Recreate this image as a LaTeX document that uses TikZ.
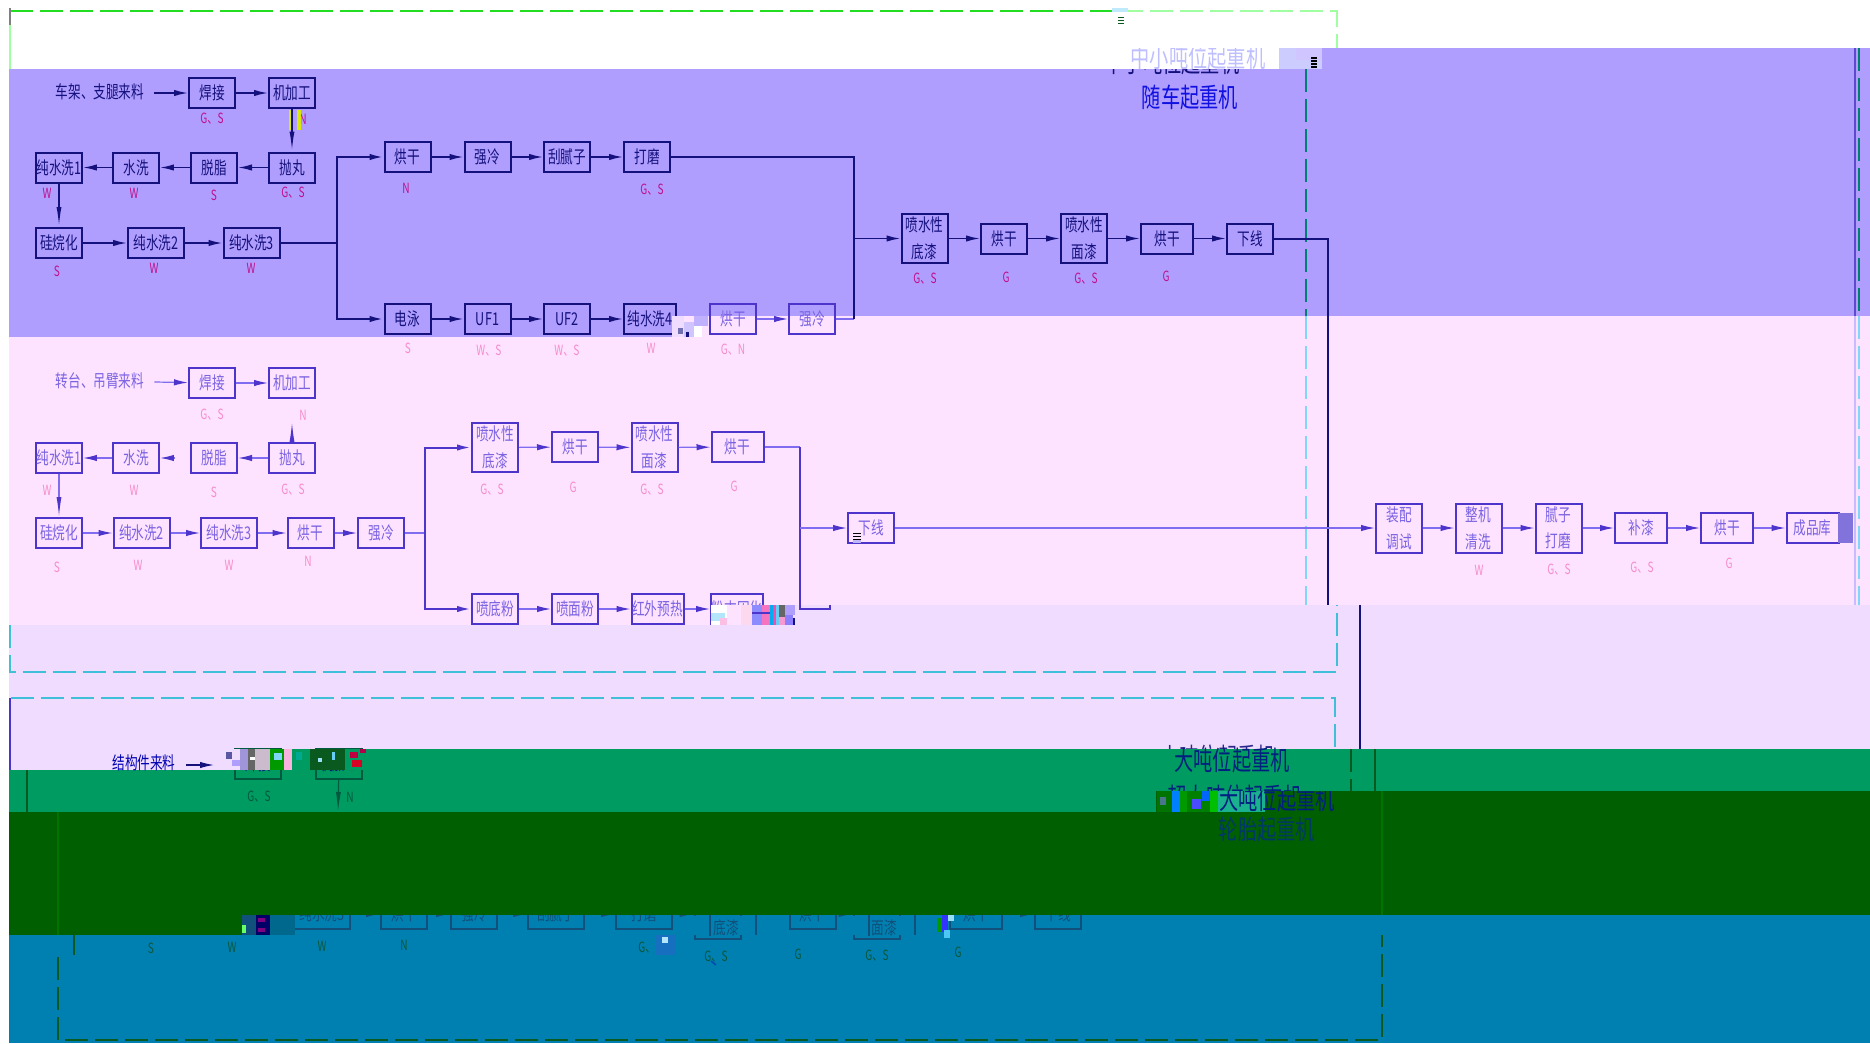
\documentclass[tikz,border=0pt]{standalone}
\usepackage{fontspec}
\usetikzlibrary{arrows.meta, positioning}
\newfontfamily\cjk[FakeStretch=0.72]{Noto Sans CJK SC}
\definecolor{purpleband}{RGB}{176,158,255}
\definecolor{pinkband}{RGB}{253,227,255}
\definecolor{lilacband}{RGB}{239,220,255}
\definecolor{greenband}{RGB}{0,155,96}
\definecolor{darkband}{RGB}{0,95,0}
\definecolor{blueband}{RGB}{0,128,176}
\definecolor{navyink}{RGB}{20,16,124}
\definecolor{pinkink}{RGB}{77,53,204}
\definecolor{pinktext}{RGB}{122,98,226}
\definecolor{pinkline}{RGB}{127,108,240}
\definecolor{seaink}{RGB}{16,80,122}
\definecolor{leafink}{RGB}{0,90,64}
\definecolor{framegreen}{RGB}{34,221,34}
\definecolor{framelight}{RGB}{160,255,160}
\definecolor{framecyan}{RGB}{64,192,216}
\definecolor{frameteal}{RGB}{0,128,112}
\definecolor{framedark}{RGB}{10,90,32}
\definecolor{titleblue}{RGB}{16,16,224}
\definecolor{titlenavy}{RGB}{0,32,128}
\definecolor{tagmagenta}{RGB}{192,16,140}
\colorlet{inkcol}{navyink}
\colorlet{textcol}{navyink}
\colorlet{linecol}{navyink}
\colorlet{tagcol}{black}
\tikzset{
  procbox/.style={draw=inkcol, text=textcol, line width=0.1cm, inner sep=0pt, minimum width=2.3cm, minimum height=1.5cm, font=\cjk\fontsize{25}{38}\selectfont, align=center},
  midbox/.style={minimum width=2.6cm},
  widebox/.style={minimum width=2.8cm},
  tallbox/.style={minimum height=2.45cm},
  flowline/.style={draw=linecol, line width=0.08cm},
  busline/.style={draw=inkcol, line width=0.1cm},
  flowarrow/.style={flowline, -{Latex[length=0.7cm,width=0.32cm,color=inkcol]}},
  downarrow/.style={flowline, -{Latex[length=1cm,width=0.25cm,color=inkcol]}},
  tagtext/.style={text=tagcol, inner sep=0pt, font=\cjk\fontsize{20}{20}\selectfont},
  feedtext/.style={text=textcol, inner sep=0pt, font=\cjk\fontsize{25}{25}\selectfont},
  titletext/.style={inner sep=0pt, font=\cjk\fontsize{38}{38}\selectfont},
  framedash/.style={line width=0.13cm, dash pattern=on 1.15cm off 0.35cm},
}
\begin{document}
\begin{tikzpicture}[x=0.05cm, y=-0.05cm]
  \useasboundingbox (0,0) rectangle (1870,1043);
  % bandes
  \fill[purpleband] (9,69) rectangle (1870,316);
  \fill[purpleband] (9,316) rectangle (680,337);
  \fill[purpleband] (1322,48) rectangle (1870,69);
  \fill[pinkband] (680,316) rectangle (1870,605);
  \fill[pinkband] (9,337) rectangle (680,605);
  \fill[pinkband] (9,605) rectangle (777,625);
  \fill[lilacband] (777,605) rectangle (1870,625);
  \fill[lilacband] (9,625) rectangle (1870,749);
  \fill[lilacband] (9,749) rectangle (273,770);
  \fill[greenband] (273,749) rectangle (1870,791);
  \fill[greenband] (9,770) rectangle (1156,812);
  \fill[blueband] (180,915) rectangle (1870,1043);
  \fill[blueband] (9,935) rectangle (180,1043);

  % cadres
  \draw[framedash, framegreen] (10,11) -- (1120,11);
  \draw[framedash, framelight] (1120,11) -- (1337,11) -- (1337,48);
  \draw[line width=0.08cm, framelight] (10,11) -- (10,69);
  \draw[line width=0.08cm, gray] (10,8) -- (10,25);
  \draw[framedash, line width=0.07cm, frameteal] (1306,69) -- (1306,316);
  \draw[framedash, line width=0.07cm, cyan!50] (1306,316) -- (1306,605);
  \draw[framedash, line width=0.07cm, frameteal] (1859,48) -- (1859,316);
  \draw[framedash, line width=0.07cm, cyan!50] (1859,316) -- (1859,605);
  \draw[line width=0.1cm, pinkink!90] (1855,48) -- (1855,316);
  \draw[line width=0.1cm, purpleband!70] (1855,316) -- (1855,605);
  \draw[framedash, framecyan] (10,625) -- (10,672) -- (1337,672) -- (1337,605);
  \draw[framedash, framecyan] (11,698) -- (1335,698) -- (1335,749);
  \draw[line width=0.08cm, pinkink] (10,698) -- (10,770);
  \draw[line width=0.1cm, framedark] (27,770) -- (27,812);
  \draw[line width=0.08cm, framedark] (74,935) -- (74,955);
  \draw[framedash, framedark] (58,957) -- (58,1040) -- (1382,1040) -- (1382,935);
  \draw[framedash, line width=0.07cm, framedark] (1351,749) -- (1351,791);

  % titre du haut
  \node[titletext, text=navyink] (titleSmall) at (1172,62) {中小吨位起重机};
  \fill[white] (1000,48) rectangle (1279,69);
  \fill[blue!20] (1279,48) rectangle (1322,69);
  \fill[purpleband!60] (1296,48) rectangle (1322,60);
  \begin{scope}
    \clip (1000,48) rectangle (1322,69);
    \node[titletext, text=blue!25] (titleGhost) at (1198,57) {中小吨位起重机};
  \end{scope}
  \node[titletext, text=titleblue] (titleTruck) at (1190,97) {随车起重机};

  % ligne du chassis
  \node[feedtext] (feedA) at (100,92) {车架、支腿来料};
  \node[procbox] (weldA) at (212,93) {焊接};
  \node[procbox] (millA) at (292,93) {机加工};
  \node[procbox] (blastA) at (292,167.5) {抛丸};
  \node[procbox] (degreaseA) at (214,167.5) {脱脂};
  \node[procbox] (rinseA) at (136,167.5) {水洗};
  \node[procbox] (pureAa) at (59,167.5) {纯水洗1};
  \node[procbox] (silaneA) at (59,243) {硅烷化};
  \node[procbox, widebox] (pureAb) at (156,243) {纯水洗2};
  \node[procbox, widebox] (pureAc) at (251.5,243) {纯水洗3};
  \node[procbox] (dryAa) at (407.5,157) {烘干};
  \node[procbox] (coolAa) at (487.5,157) {强冷};
  \node[procbox] (puttyA) at (567,157) {刮腻子};
  \node[procbox] (sandA) at (647,157) {打磨};
  \node[procbox] (ecoatA) at (407.5,319) {电泳};
  \node[procbox] (ufAa) at (487.5,319) {UF1};
  \node[procbox] (ufAb) at (567,319) {UF2};
  \node[procbox, midbox] (pureAd) at (650,319) {纯水洗4};
  \node[procbox, tallbox] (primeA) at (924.5,238.5) {喷水性\\底漆};
  \node[procbox] (dryAb) at (1004,238.5) {烘干};
  \node[procbox, tallbox] (topA) at (1084,238.5) {喷水性\\面漆};
  \node[procbox, midbox] (dryAc) at (1167,238.5) {烘干};
  \node[procbox] (offA) at (1250,238.5) {下线};
  \coordinate (busAl) at (337,243);
  \coordinate (busAr) at (854,238.5);
  \coordinate (busAo) at (1328,238.5);
  \coordinate (busAe) at (1328,605);
  \draw[flowarrow] (feedA.east) ++(10,1) -- (weldA);
  \draw[flowarrow] (weldA) -- (millA);
  \draw[downarrow] (millA) -- (blastA);
  \draw[flowarrow] (blastA) -- (degreaseA);
  \draw[flowarrow] (degreaseA) -- (rinseA);
  \draw[flowarrow] (rinseA) -- (pureAa);
  \draw[downarrow] (pureAa) -- (silaneA);
  \draw[flowarrow] (silaneA) -- (pureAb);
  \draw[flowarrow] (pureAb) -- (pureAc);
  \draw[busline] (pureAc) -- (busAl);
  \draw[busline, -{Latex[length=0.7cm,width=0.32cm]}] (busAl) |- (dryAa);
  \draw[busline, -{Latex[length=0.7cm,width=0.32cm]}] (busAl) |- (ecoatA);
  \draw[flowarrow] (dryAa) -- (coolAa);
  \draw[flowarrow] (coolAa) -- (puttyA);
  \draw[flowarrow] (puttyA) -- (sandA);
  \draw[flowarrow] (ecoatA) -- (ufAa);
  \draw[flowarrow] (ufAa) -- (ufAb);
  \draw[flowarrow] (ufAb) -- (pureAd);
  \draw[busline] (sandA) -| (busAr);
  \draw[flowarrow] (busAr) -- (primeA);
  \draw[flowarrow] (primeA) -- (dryAb);
  \draw[flowarrow] (dryAb) -- (topA);
  \draw[flowarrow] (topA) -- (dryAc);
  \draw[flowarrow] (dryAc) -- (offA);
  \draw[busline] (offA) -- (busAo) -- (busAe);
  \colorlet{tagcol}{tagmagenta}
  \foreach \x/\y/\t [count=\i] in {212/119/G、S, 303/119/N, 293/193/G、S, 214/195/S, 134/193/W, 47/193/W, 57/271/S, 154/268/W, 251/268/W, 406/188/N, 652/190/G、S, 925/279/G、S, 1006/277/G, 1086/279/G、S, 1166/276/G}
    {\node[tagtext] (tagA\i) at (\x,\y) {\t};}
  \fill[yellow!85!green] (289,110) rectangle (291,130);
  \fill[yellow!85!green] (297,110) rectangle (301,130);

  % ligne de la tourelle
  \colorlet{inkcol}{pinkink}
  \colorlet{textcol}{pinktext}
  \colorlet{linecol}{pinkline}
  \colorlet{tagcol}{magenta!45}
  \tikzset{flowline/.append style={line width=0.06cm}}
  \node[procbox] (dryBz) at (733,319) {烘干};
  \node[procbox] (coolBz) at (812,319) {强冷};
  \coordinate (busBz) at (854,319);
  \coordinate (busBy) at (854,316);
  \draw[flowarrow] (dryBz) -- (coolBz);
  \draw[flowline] (coolBz) -- (busBz);
  \draw[busline, navyink] (busBy) -- (busBz);
  \draw[busline, navyink] (busBy) -- (busAr);
  \foreach \x/\y/\t [count=\i] in {408/348/S, 489/351/W、S, 567/351/W、S, 651/348/W, 733/350/G、N, 212/415/G、S, 303/415/N, 293/490/G、S, 214/492/S, 134/490/W, 47/490/W, 57/567/S, 138/565/W, 229/565/W, 308/561/N, 492/490/G、S, 573/487/G, 652/490/G、S, 734/486/G, 1479/570/W, 1559/570/G、S, 1642/568/G、S, 1729/563/G}
    {\node[tagtext] (tagB\i) at (\x,\y) {\t};}
  \node[feedtext] (feedB) at (100,381) {转台、吊臂来料};
  \node[procbox] (weldB) at (212,383) {焊接};
  \node[procbox] (millB) at (292,383) {机加工};
  \node[procbox] (blastB) at (292,458) {抛丸};
  \node[procbox] (degreaseB) at (214,458) {脱脂};
  \node[procbox] (rinseB) at (136,458) {水洗};
  \node[procbox] (pureBa) at (59,458) {纯水洗1};
  \node[procbox] (silaneB) at (59,533) {硅烷化};
  \node[procbox, widebox] (pureBb) at (141.5,533) {纯水洗2};
  \node[procbox, widebox] (pureBc) at (229,533) {纯水洗3};
  \node[procbox] (dryBa) at (310.5,533) {烘干};
  \node[procbox] (coolBa) at (381,533) {强冷};
  \node[procbox, tallbox] (primeB) at (495,447.5) {喷水性\\底漆};
  \node[procbox] (dryBb) at (575,447) {烘干};
  \node[procbox, tallbox] (topB) at (654.5,447.5) {喷水性\\面漆};
  \node[procbox, midbox] (dryBc) at (737.5,447) {烘干};
  \node[procbox] (powderBa) at (495,609) {喷底粉};
  \node[procbox] (powderBb) at (575,609) {喷面粉};
  \node[procbox, midbox] (heatB) at (657.5,609) {红外预热};
  \node[procbox, midbox] (cureB) at (737,609) {粉末固化};
  \node[procbox] (offB) at (871,528) {下线};
  \node[procbox, tallbox] (fitC) at (1399,528) {装配\\调试};
  \node[procbox, tallbox] (cleanC) at (1478.5,528) {整机\\清洗};
  \node[procbox, tallbox] (puttyC) at (1558.5,528) {腻子\\打磨};
  \node[procbox, midbox] (patchC) at (1641,528) {补漆};
  \node[procbox, midbox] (dryC) at (1727,528) {烘干};
  \node[procbox, midbox] (storeC) at (1812.5,528) {成品库};
  \coordinate (busBl) at (424.5,533);
  \coordinate (busBr) at (800,528);
  \coordinate (busBt) at (800,447);
  \coordinate (busBb) at (800,609);
  \coordinate (stubB) at (292,422);
  \coordinate (stubBd) at (175,458);
  \coordinate (tickB) at (830,609);
  \coordinate (tickBe) at (830,605);
  \draw[flowarrow] (feedB.east) ++(10,1) -- (weldB);
  \draw[flowarrow] (weldB) -- (millB);
  \draw[downarrow] (blastB) -- (stubB);
  \draw[flowarrow] (blastB) -- (degreaseB);
  \draw[flowarrow] (stubBd) -- (rinseB);
  \draw[flowarrow] (rinseB) -- (pureBa);
  \draw[downarrow] (pureBa) -- (silaneB);
  \draw[flowarrow] (silaneB) -- (pureBb);
  \draw[flowarrow] (pureBb) -- (pureBc);
  \draw[flowarrow] (pureBc) -- (dryBa);
  \draw[flowarrow] (dryBa) -- (coolBa);
  \draw[flowline] (coolBa) -- (busBl);
  \draw[busline, -{Latex[length=0.7cm,width=0.32cm]}] (busBl) |- (primeB);
  \draw[busline, -{Latex[length=0.7cm,width=0.32cm]}] (busBl) |- (powderBa);
  \draw[flowarrow] (primeB) -- (dryBb);
  \draw[flowarrow] (dryBb) -- (topB);
  \draw[flowarrow] (topB) -- (dryBc);
  \draw[flowarrow] (powderBa) -- (powderBb);
  \draw[flowarrow] (powderBb) -- (heatB);
  \draw[flowarrow] (heatB) -- (cureB);
  \draw[flowline] (dryBc) -- (busBt);
  \draw[busline] (busBt) -- (busBb) -- (tickB) -- (tickBe);
  \draw[flowarrow] (busBr) -- (offB);
  \draw[flowarrow] (offB) -- (fitC);
  \draw[flowarrow] (fitC) -- (cleanC);
  \draw[flowarrow] (cleanC) -- (puttyC);
  \draw[flowarrow] (puttyC) -- (patchC);
  \draw[flowarrow] (patchC) -- (dryC);
  \draw[flowarrow] (dryC) -- (storeC);
  \fill[pinkink!70!white] (1838,513) rectangle (1853,543);
  \foreach \y in {533,536,539} {\fill[black] (853,\y) rectangle (861,\y+1.2);}
  \fill[pinkline!50] (853,540) rectangle (861,543);

  % blocs brouilles
  \foreach \x/\y/\w/\h/\c in {711/605/16/20/white, 711/613/14/8/cyan!30, 720/618/12/7/magenta!25, 727/605/14/20/pinkband, 741/605/11/20/magenta!15, 752/605/10/20/blue!45, 762/605/8/20/magenta!55, 770/605/3/20/cyan, 773/605/3/20/magenta!70, 776/605/3/20/cyan!60, 779/605/6/12/black!60, 779/617/6/8/magenta!40, 785/605/10/10/purpleband, 785/615/8/10/purpleband!80!blue, 793/618/2/7/navyink, 752/612/18/1.5/pinkink, 672/316/12/21/lilacband, 684/322/10/15/purpleband!60, 694/316/14/10/purpleband!80, 694/326/8/11/white, 678/328/5/6/navyink!60, 686/332/3/5/navyink}
    {\fill[\c] (\x,\y) rectangle ++(\w,\h);}
  \foreach \y in {17,20,23} {\fill[framedark] (1118,\y) rectangle (1124,\y+1.3);}
  \fill[cyan!25] (1112,8) rectangle (1128,12);
  \foreach \y in {57,60,63,66} {\fill[black] (1311,\y) rectangle (1317,\y+1.5);}

  % ligne des structures
  \colorlet{inkcol}{leafink}
  \colorlet{textcol}{titlenavy}
  \colorlet{linecol}{leafink}
  \colorlet{tagcol}{leafink}
  \node[procbox] (weldD) at (258,764) {焊接};
  \node[procbox] (millD) at (339,764) {机加工};
  \coordinate (stubD) at (338,812);
  \draw[downarrow] (millD) -- (stubD);
  \foreach \x/\y/\t [count=\i] in {259/797/G、S, 350/797/N}
    {\node[tagtext] (tagD\i) at (\x,\y) {\t};}
  \colorlet{inkcol}{seaink}
  \colorlet{textcol}{seaink}
  \colorlet{linecol}{seaink}
  \colorlet{tagcol}{framedark!70!seaink}
  \node[procbox, widebox] (pureDc) at (322,914) {纯水洗3};
  \node[procbox] (dryDa) at (404,914) {烘干};
  \node[procbox] (coolDa) at (474,914) {强冷};
  \node[procbox, widebox] (puttyD) at (556,914) {刮腻子};
  \node[procbox, widebox] (sandD) at (644,914) {打磨};
  \node[procbox, tallbox] (primeD) at (717.5,914) {};
  \node[procbox] (dryDb) at (812.5,914) {烘干};
  \node[procbox, tallbox] (topD) at (876.5,914) {};
  \node[procbox, midbox] (dryDc) at (976,914) {烘干};
  \node[procbox] (offD) at (1058,914) {下线};
  \draw[flowarrow] (pureDc) -- (dryDa);
  \draw[flowarrow] (dryDa) -- (coolDa);
  \draw[flowarrow] (coolDa) -- (puttyD);
  \draw[flowarrow] (puttyD) -- (sandD);
  \draw[flowarrow] (sandD) -- (primeD);
  \draw[flowarrow] (dryDb) -- (topD);
  \draw[flowarrow] (dryDc) -- (offD);
  \fill[blueband] (690,915.5) rectangle (760,935);
  \fill[blueband] (850,915.5) rectangle (920,935);
  \coordinate (edgeDa) at (710,915);
  \coordinate (edgeDb) at (710,936);
  \coordinate (edgeDc) at (756,915);
  \coordinate (edgeDd) at (756,935);
  \coordinate (edgeDe) at (869,915);
  \coordinate (edgeDf) at (869,936);
  \coordinate (edgeDg) at (915,915);
  \coordinate (edgeDh) at (915,935);
  \draw[busline] (edgeDa) -- (edgeDb) (edgeDc) -- (edgeDd) (edgeDe) -- (edgeDf) (edgeDg) -- (edgeDh);
  \node[feedtext] (primeDt) at (726,928) {底漆};
  \node[feedtext] (topDt) at (884,928) {面漆};
  \foreach \x/\y/\t [count=\i] in {151/948/S, 232/947/W, 322/946/W, 404/945/N, 650/948/G、S, 716/957/G、S, 798/954/G, 877/956/G、S, 958/952/G}
    {\node[tagtext] (tagE\i) at (\x,\y) {\t};}
  \draw[line width=0.08cm, blue!70!green] (711,961) -- (716,965);

  % titres du bas
  \node[titletext, text=navyink!90] (titleBigB) at (1218,757) {小吨位起重机};
  \fill[greenband] (1150,749) rectangle (1300,791);
  \node[titletext, text=titlenavy] (titleBig) at (1232,760) {大吨位起重机};
  \node[titletext, text=titlenavy] (titleHuge) at (1235,797) {超大吨位起重机};

  % vert fonce
  \fill[darkband] (9,812) rectangle (1870,915);
  \fill[darkband] (1156,791) rectangle (1870,812);
  \fill[darkband] (9,915) rectangle (180,935);
  \draw[line width=0.07cm, green!45!black] (58,812) -- (58,935);
  \draw[line width=0.07cm, green!45!black] (1382,791) -- (1382,915);
  \foreach \x/\y/\w/\h/\c in {1157/791/15/21/green!45!black, 1160/797/6/8/cyan!50!black, 1172/791/8/21/blue!50!cyan, 1180/791/7/21/green!60!black, 1187/791/23/21/green!50!black, 1192/799/9/10/blue!70, 1202/791/8/10/blue!60!cyan, 1210/791/8/21/green!75!black, 1218/791/47/21/cyan!35!green!90, 180/915/62/20/darkband, 242/915/14/20/seaink, 256/915/14/20/blue!40!black, 270/915/25/20/blueband!80!black, 258/918/7/4/red!50!blue, 258/928/7/4/red!50!blue, 242/925/4/8/green!60, 656/935/20/20/cyan!50!blue, 662/937/6/6/cyan!30, 937/918/5/14/green!60!black, 942/915/6/17/blue!80, 944/930/6/8/cyan!70, 948/915/6/6/cyan!40}
    {\fill[\c] (\x,\y) rectangle ++(\w,\h);}
  \begin{scope}
    \clip (1156,791) rectangle (1500,850);
    \node[titletext, text=titlenavy] (titleBigC) at (1277,799) {大吨位起重机};
    \node[titletext, text=blue!40!darkband] (titleTyre) at (1267,829) {轮胎起重机};
  \end{scope}

  % arrivee et lignes du bas
  \colorlet{textcol}{blue!70!black}
  \colorlet{linecol}{navyink}
  \colorlet{inkcol}{navyink}
  \node[feedtext] (feedD) at (144,763) {结构件来料};
  \coordinate (feedDe) at (186,765);
  \coordinate (feedDt) at (214,765);
  \draw[flowarrow] (feedDe) -- (feedDt);
  \foreach \x/\y/\w/\h/\c in {220/749/20/21/lilacband, 226/752/6/7/navyink!70, 232/760/8/6/purpleband, 240/749/8/21/purpleband!70!gray, 248/749/7/21/black!60, 250/757/9/3/white, 255/749/15/21/pinkband!60!gray, 270/749/14/21/green!60!black, 274/753/8/7/cyan!50, 284/749/8/21/magenta!30, 292/749/18/21/greenband, 296/752/6/8/cyan!40!green, 310/749/35/21/framedark, 318/758/4/4/cyan!40, 332/752/3/8/cyan!60, 345/749/21/21/greenband, 350/752/8/6/red!75!blue, 352/760/10/7/red!85!blue, 360/749/6/4/red!70!blue}
    {\fill[\c] (\x,\y) rectangle ++(\w,\h);}
  \coordinate (busDb) at (1360,605);
  \coordinate (busDc) at (1360,749);
  \coordinate (busDd) at (1375,749);
  \coordinate (busDe) at (1375,791);
  \draw[busline] (busDb) -- (busDc);
  \draw[busline, framedark] (busDd) -- (busDe);
\end{tikzpicture}
\end{document}
